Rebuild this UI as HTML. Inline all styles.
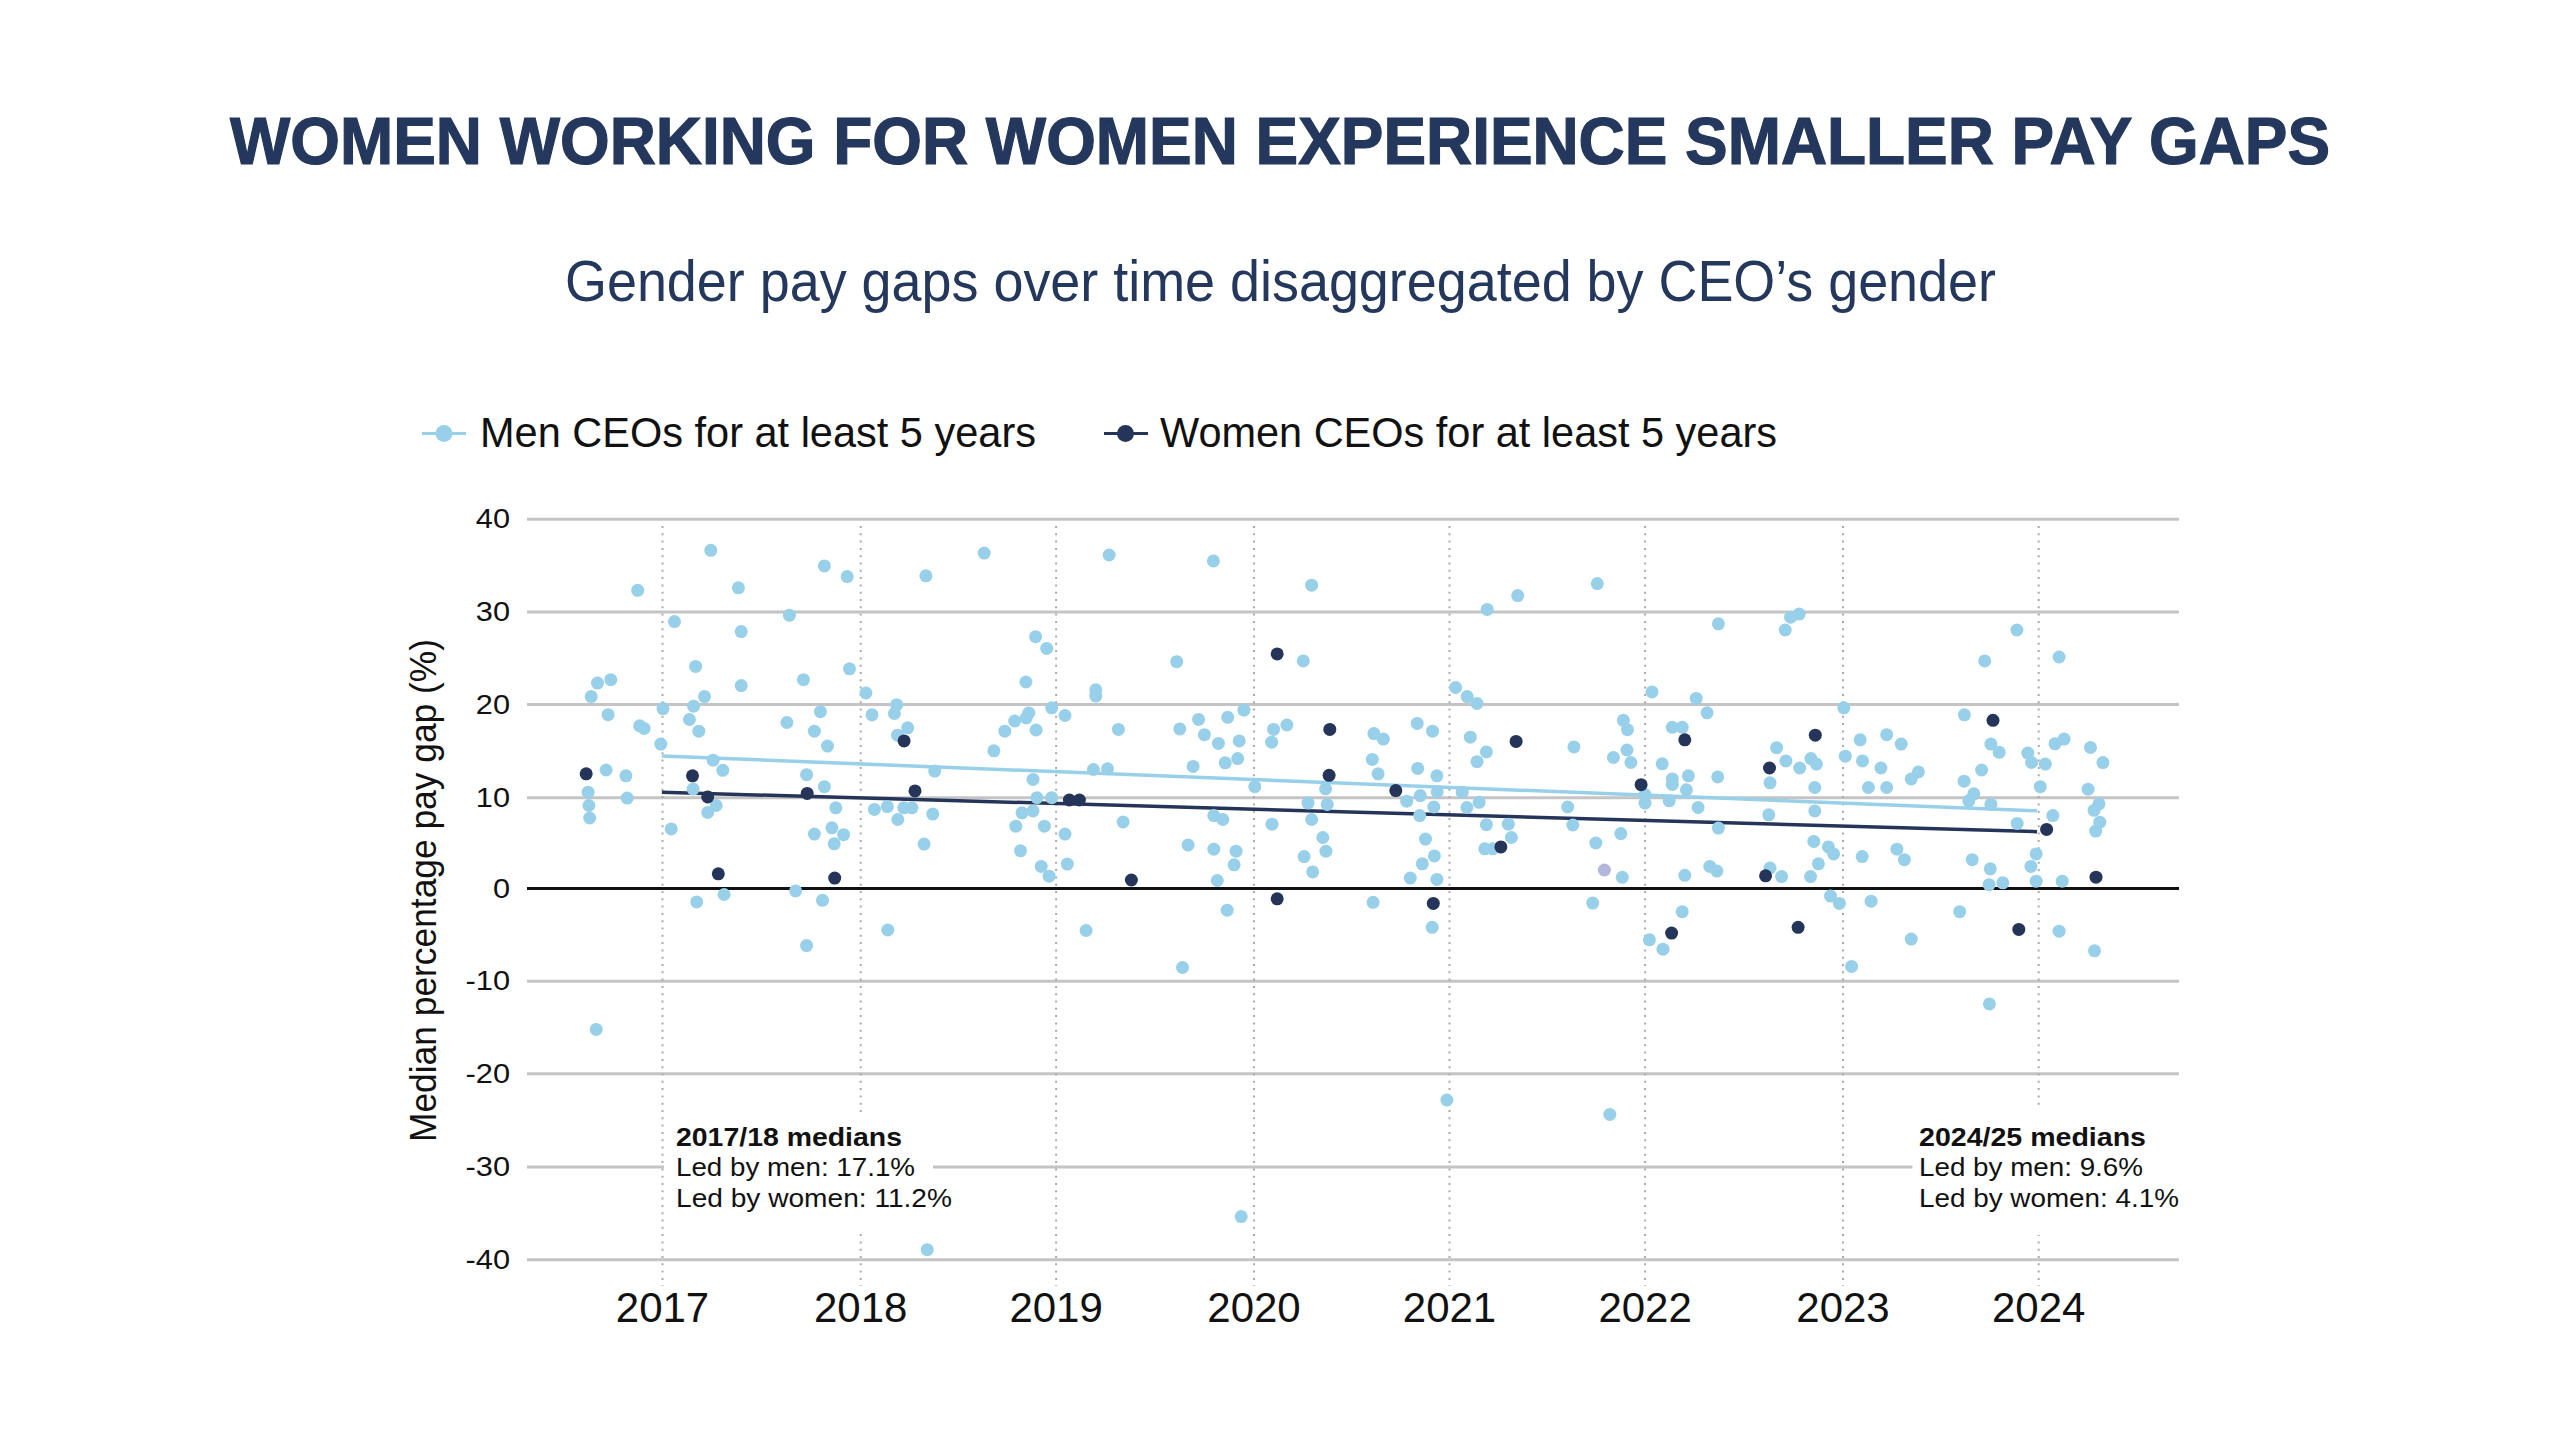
<!DOCTYPE html><html><head><meta charset="utf-8"><style>html,body{margin:0;padding:0;background:#fff;width:2560px;height:1440px;overflow:hidden}svg{position:absolute;left:0;top:0}</style></head><body>
<svg width="2560" height="1440" viewBox="0 0 2560 1440" font-family="Liberation Sans, sans-serif">
<text x="230" y="163.5" font-size="66" font-weight="bold" fill="#24375c" stroke="#24375c" stroke-width="1.2" textLength="2100" lengthAdjust="spacingAndGlyphs">WOMEN WORKING FOR WOMEN EXPERIENCE SMALLER PAY GAPS</text>
<text x="565" y="301" font-size="57.5" fill="#24375c" textLength="1431" lengthAdjust="spacingAndGlyphs">Gender pay gaps over time disaggregated by CEO’s gender</text>
<line x1="422" y1="433.5" x2="466" y2="433.5" stroke="#98d0ea" stroke-width="3"/><circle cx="444" cy="433.5" r="8.5" fill="#98d0ea"/>
<text x="480" y="447.4" font-size="42" fill="#111" textLength="556" lengthAdjust="spacingAndGlyphs">Men CEOs for at least 5 years</text>
<line x1="1104" y1="433.5" x2="1148" y2="433.5" stroke="#253459" stroke-width="3"/><circle cx="1125.5" cy="433.5" r="8.5" fill="#253459"/>
<text x="1160" y="447.4" font-size="42" fill="#111" textLength="617" lengthAdjust="spacingAndGlyphs">Women CEOs for at least 5 years</text>
<line x1="527" y1="519.2" x2="2179" y2="519.2" stroke="#c4c4c4" stroke-width="3"/>
<line x1="527" y1="612.0" x2="2179" y2="612.0" stroke="#c4c4c4" stroke-width="3"/>
<line x1="527" y1="704.6" x2="2179" y2="704.6" stroke="#c4c4c4" stroke-width="3"/>
<line x1="527" y1="797.7" x2="2179" y2="797.7" stroke="#c4c4c4" stroke-width="3"/>
<line x1="527" y1="981.3" x2="2179" y2="981.3" stroke="#c4c4c4" stroke-width="3"/>
<line x1="527" y1="1073.8" x2="2179" y2="1073.8" stroke="#c4c4c4" stroke-width="3"/>
<line x1="527" y1="1167.0" x2="2179" y2="1167.0" stroke="#c4c4c4" stroke-width="3"/>
<line x1="527" y1="1259.8" x2="2179" y2="1259.8" stroke="#c4c4c4" stroke-width="3"/>
<line x1="662.5" y1="526" x2="662.5" y2="1286" stroke="#aaaaaa" stroke-width="2" stroke-dasharray="2 5.3"/>
<line x1="860.7" y1="526" x2="860.7" y2="1286" stroke="#aaaaaa" stroke-width="2" stroke-dasharray="2 5.3"/>
<line x1="1056.1" y1="526" x2="1056.1" y2="1286" stroke="#aaaaaa" stroke-width="2" stroke-dasharray="2 5.3"/>
<line x1="1254.0" y1="526" x2="1254.0" y2="1286" stroke="#aaaaaa" stroke-width="2" stroke-dasharray="2 5.3"/>
<line x1="1449.5" y1="526" x2="1449.5" y2="1286" stroke="#aaaaaa" stroke-width="2" stroke-dasharray="2 5.3"/>
<line x1="1645.1" y1="526" x2="1645.1" y2="1286" stroke="#aaaaaa" stroke-width="2" stroke-dasharray="2 5.3"/>
<line x1="1843.0" y1="526" x2="1843.0" y2="1286" stroke="#aaaaaa" stroke-width="2" stroke-dasharray="2 5.3"/>
<line x1="2038.7" y1="526" x2="2038.7" y2="1286" stroke="#aaaaaa" stroke-width="2" stroke-dasharray="2 5.3"/>
<line x1="527" y1="888.5" x2="2179" y2="888.5" stroke="#111" stroke-width="3"/>
<text x="510" y="528.2" font-size="28" fill="#111" text-anchor="end" textLength="34.2" lengthAdjust="spacingAndGlyphs">40</text>
<text x="510" y="621.0" font-size="28" fill="#111" text-anchor="end" textLength="34.2" lengthAdjust="spacingAndGlyphs">30</text>
<text x="510" y="713.6" font-size="28" fill="#111" text-anchor="end" textLength="34.2" lengthAdjust="spacingAndGlyphs">20</text>
<text x="510" y="806.7" font-size="28" fill="#111" text-anchor="end" textLength="34.2" lengthAdjust="spacingAndGlyphs">10</text>
<text x="510" y="897.5" font-size="28" fill="#111" text-anchor="end" textLength="17.1" lengthAdjust="spacingAndGlyphs">0</text>
<text x="510" y="990.3" font-size="28" fill="#111" text-anchor="end" textLength="44.5" lengthAdjust="spacingAndGlyphs">-10</text>
<text x="510" y="1082.8" font-size="28" fill="#111" text-anchor="end" textLength="44.5" lengthAdjust="spacingAndGlyphs">-20</text>
<text x="510" y="1176.0" font-size="28" fill="#111" text-anchor="end" textLength="44.5" lengthAdjust="spacingAndGlyphs">-30</text>
<text x="510" y="1268.8" font-size="28" fill="#111" text-anchor="end" textLength="44.5" lengthAdjust="spacingAndGlyphs">-40</text>
<text x="662.5" y="1322" font-size="42" fill="#111" text-anchor="middle">2017</text>
<text x="860.7" y="1322" font-size="42" fill="#111" text-anchor="middle">2018</text>
<text x="1056.1" y="1322" font-size="42" fill="#111" text-anchor="middle">2019</text>
<text x="1254.0" y="1322" font-size="42" fill="#111" text-anchor="middle">2020</text>
<text x="1449.5" y="1322" font-size="42" fill="#111" text-anchor="middle">2021</text>
<text x="1645.1" y="1322" font-size="42" fill="#111" text-anchor="middle">2022</text>
<text x="1843.0" y="1322" font-size="42" fill="#111" text-anchor="middle">2023</text>
<text x="2038.7" y="1322" font-size="42" fill="#111" text-anchor="middle">2024</text>
<text transform="translate(436,1142) rotate(-90)" x="0" y="0" font-size="37" fill="#111" textLength="503" lengthAdjust="spacingAndGlyphs">Median percentage pay gap (%)</text>
<line x1="661.9" y1="756" x2="2037.1" y2="810.8" stroke="#98d0ea" stroke-width="3.5"/>
<line x1="661.9" y1="792.2" x2="2037.1" y2="831.7" stroke="#253459" stroke-width="3.5"/>
<circle cx="710.8" cy="550.3" r="6.5" fill="#98d0ea"/>
<circle cx="637.7" cy="590.3" r="6.5" fill="#98d0ea"/>
<circle cx="738.4" cy="587.8" r="6.5" fill="#98d0ea"/>
<circle cx="824.4" cy="565.9" r="6.5" fill="#98d0ea"/>
<circle cx="847.2" cy="576.6" r="6.5" fill="#98d0ea"/>
<circle cx="925.9" cy="575.8" r="6.5" fill="#98d0ea"/>
<circle cx="674.5" cy="621.6" r="6.5" fill="#98d0ea"/>
<circle cx="741.2" cy="631.6" r="6.5" fill="#98d0ea"/>
<circle cx="789.4" cy="615.3" r="6.5" fill="#98d0ea"/>
<circle cx="695.6" cy="666.4" r="6.5" fill="#98d0ea"/>
<circle cx="741.2" cy="685.6" r="6.5" fill="#98d0ea"/>
<circle cx="803.4" cy="679.7" r="6.5" fill="#98d0ea"/>
<circle cx="849.5" cy="668.8" r="6.5" fill="#98d0ea"/>
<circle cx="597.5" cy="683.1" r="6.5" fill="#98d0ea"/>
<circle cx="610.8" cy="679.7" r="6.5" fill="#98d0ea"/>
<circle cx="591.2" cy="696.6" r="6.5" fill="#98d0ea"/>
<circle cx="704.5" cy="696.6" r="6.5" fill="#98d0ea"/>
<circle cx="693.6" cy="706.2" r="6.5" fill="#98d0ea"/>
<circle cx="663.0" cy="708.6" r="6.5" fill="#98d0ea"/>
<circle cx="865.9" cy="693.0" r="6.5" fill="#98d0ea"/>
<circle cx="896.7" cy="704.7" r="6.5" fill="#98d0ea"/>
<circle cx="608.1" cy="714.7" r="6.5" fill="#98d0ea"/>
<circle cx="820.4" cy="711.7" r="6.5" fill="#98d0ea"/>
<circle cx="872.0" cy="714.8" r="6.5" fill="#98d0ea"/>
<circle cx="894.4" cy="713.5" r="6.5" fill="#98d0ea"/>
<circle cx="689.4" cy="719.5" r="6.5" fill="#98d0ea"/>
<circle cx="786.9" cy="722.5" r="6.5" fill="#98d0ea"/>
<circle cx="984.2" cy="553.1" r="6.5" fill="#98d0ea"/>
<circle cx="1109.1" cy="555.0" r="6.5" fill="#98d0ea"/>
<circle cx="1213.4" cy="560.9" r="6.5" fill="#98d0ea"/>
<circle cx="1311.6" cy="585.2" r="6.5" fill="#98d0ea"/>
<circle cx="1035.6" cy="636.7" r="6.5" fill="#98d0ea"/>
<circle cx="1046.7" cy="648.4" r="6.5" fill="#98d0ea"/>
<circle cx="1176.7" cy="661.7" r="6.5" fill="#98d0ea"/>
<circle cx="1303.3" cy="660.9" r="6.5" fill="#98d0ea"/>
<circle cx="1025.9" cy="682.0" r="6.5" fill="#98d0ea"/>
<circle cx="1095.8" cy="689.8" r="6.5" fill="#98d0ea"/>
<circle cx="1095.8" cy="696.1" r="6.5" fill="#98d0ea"/>
<circle cx="1051.7" cy="707.8" r="6.5" fill="#98d0ea"/>
<circle cx="1028.8" cy="713.0" r="6.5" fill="#98d0ea"/>
<circle cx="1065.0" cy="715.5" r="6.5" fill="#98d0ea"/>
<circle cx="1243.9" cy="710.2" r="6.5" fill="#98d0ea"/>
<circle cx="1227.7" cy="717.3" r="6.5" fill="#98d0ea"/>
<circle cx="1198.6" cy="719.4" r="6.5" fill="#98d0ea"/>
<circle cx="1014.7" cy="721.0" r="6.5" fill="#98d0ea"/>
<circle cx="1277.2" cy="653.9" r="6.5" fill="#253459"/>
<circle cx="1487.2" cy="609.4" r="6.5" fill="#98d0ea"/>
<circle cx="1517.7" cy="595.6" r="6.5" fill="#98d0ea"/>
<circle cx="1597.3" cy="583.6" r="6.5" fill="#98d0ea"/>
<circle cx="1718.4" cy="623.8" r="6.5" fill="#98d0ea"/>
<circle cx="1455.6" cy="687.5" r="6.5" fill="#98d0ea"/>
<circle cx="1467.2" cy="696.6" r="6.5" fill="#98d0ea"/>
<circle cx="1477.0" cy="703.4" r="6.5" fill="#98d0ea"/>
<circle cx="1652.0" cy="691.9" r="6.5" fill="#98d0ea"/>
<circle cx="1696.2" cy="698.4" r="6.5" fill="#98d0ea"/>
<circle cx="1707.1" cy="712.8" r="6.5" fill="#98d0ea"/>
<circle cx="1623.4" cy="720.3" r="6.5" fill="#98d0ea"/>
<circle cx="1417.2" cy="723.4" r="6.5" fill="#98d0ea"/>
<circle cx="1790.6" cy="617.2" r="6.5" fill="#98d0ea"/>
<circle cx="1799.2" cy="614.1" r="6.5" fill="#98d0ea"/>
<circle cx="1785.2" cy="630.0" r="6.5" fill="#98d0ea"/>
<circle cx="2016.9" cy="630.0" r="6.5" fill="#98d0ea"/>
<circle cx="1984.7" cy="660.9" r="6.5" fill="#98d0ea"/>
<circle cx="2059.1" cy="657.0" r="6.5" fill="#98d0ea"/>
<circle cx="1843.8" cy="707.8" r="6.5" fill="#98d0ea"/>
<circle cx="1964.4" cy="714.8" r="6.5" fill="#98d0ea"/>
<circle cx="1993.0" cy="720.3" r="6.5" fill="#253459"/>
<circle cx="698.8" cy="731.2" r="6.5" fill="#98d0ea"/>
<circle cx="639.7" cy="725.8" r="6.5" fill="#98d0ea"/>
<circle cx="644.1" cy="728.4" r="6.5" fill="#98d0ea"/>
<circle cx="660.8" cy="744.1" r="6.5" fill="#98d0ea"/>
<circle cx="814.4" cy="731.2" r="6.5" fill="#98d0ea"/>
<circle cx="827.5" cy="746.1" r="6.5" fill="#98d0ea"/>
<circle cx="907.7" cy="727.8" r="6.5" fill="#98d0ea"/>
<circle cx="897.5" cy="735.2" r="6.5" fill="#98d0ea"/>
<circle cx="713.1" cy="760.2" r="6.5" fill="#98d0ea"/>
<circle cx="722.8" cy="770.3" r="6.5" fill="#98d0ea"/>
<circle cx="606.1" cy="770.0" r="6.5" fill="#98d0ea"/>
<circle cx="625.9" cy="775.8" r="6.5" fill="#98d0ea"/>
<circle cx="588.1" cy="792.2" r="6.5" fill="#98d0ea"/>
<circle cx="627.2" cy="798.1" r="6.5" fill="#98d0ea"/>
<circle cx="588.9" cy="805.5" r="6.5" fill="#98d0ea"/>
<circle cx="589.7" cy="818.0" r="6.5" fill="#98d0ea"/>
<circle cx="693.1" cy="789.1" r="6.5" fill="#98d0ea"/>
<circle cx="716.2" cy="805.5" r="6.5" fill="#98d0ea"/>
<circle cx="707.7" cy="812.5" r="6.5" fill="#98d0ea"/>
<circle cx="671.2" cy="828.9" r="6.5" fill="#98d0ea"/>
<circle cx="806.6" cy="774.7" r="6.5" fill="#98d0ea"/>
<circle cx="824.4" cy="786.7" r="6.5" fill="#98d0ea"/>
<circle cx="835.8" cy="807.8" r="6.5" fill="#98d0ea"/>
<circle cx="831.9" cy="827.8" r="6.5" fill="#98d0ea"/>
<circle cx="814.4" cy="834.1" r="6.5" fill="#98d0ea"/>
<circle cx="843.6" cy="834.7" r="6.5" fill="#98d0ea"/>
<circle cx="834.2" cy="843.8" r="6.5" fill="#98d0ea"/>
<circle cx="874.4" cy="809.4" r="6.5" fill="#98d0ea"/>
<circle cx="887.3" cy="806.6" r="6.5" fill="#98d0ea"/>
<circle cx="903.8" cy="807.8" r="6.5" fill="#98d0ea"/>
<circle cx="911.9" cy="807.8" r="6.5" fill="#98d0ea"/>
<circle cx="897.8" cy="819.5" r="6.5" fill="#98d0ea"/>
<circle cx="932.7" cy="814.1" r="6.5" fill="#98d0ea"/>
<circle cx="924.1" cy="844.1" r="6.5" fill="#98d0ea"/>
<circle cx="934.7" cy="771.1" r="6.5" fill="#98d0ea"/>
<circle cx="795.6" cy="890.9" r="6.5" fill="#98d0ea"/>
<circle cx="724.1" cy="894.5" r="6.5" fill="#98d0ea"/>
<circle cx="696.7" cy="901.9" r="6.5" fill="#98d0ea"/>
<circle cx="822.5" cy="900.3" r="6.5" fill="#98d0ea"/>
<circle cx="586.2" cy="773.8" r="6.5" fill="#253459"/>
<circle cx="692.5" cy="775.8" r="6.5" fill="#253459"/>
<circle cx="707.7" cy="796.9" r="6.5" fill="#253459"/>
<circle cx="807.2" cy="793.4" r="6.5" fill="#253459"/>
<circle cx="904.1" cy="740.9" r="6.5" fill="#253459"/>
<circle cx="915.0" cy="790.9" r="6.5" fill="#253459"/>
<circle cx="718.3" cy="873.8" r="6.5" fill="#253459"/>
<circle cx="834.7" cy="878.1" r="6.5" fill="#253459"/>
<circle cx="1026.2" cy="718.0" r="6.5" fill="#98d0ea"/>
<circle cx="1004.8" cy="731.2" r="6.5" fill="#98d0ea"/>
<circle cx="1036.1" cy="730.0" r="6.5" fill="#98d0ea"/>
<circle cx="993.9" cy="750.8" r="6.5" fill="#98d0ea"/>
<circle cx="1118.4" cy="729.4" r="6.5" fill="#98d0ea"/>
<circle cx="1179.8" cy="728.9" r="6.5" fill="#98d0ea"/>
<circle cx="1204.4" cy="734.7" r="6.5" fill="#98d0ea"/>
<circle cx="1218.4" cy="743.4" r="6.5" fill="#98d0ea"/>
<circle cx="1239.2" cy="740.9" r="6.5" fill="#98d0ea"/>
<circle cx="1273.6" cy="729.4" r="6.5" fill="#98d0ea"/>
<circle cx="1286.9" cy="725.0" r="6.5" fill="#98d0ea"/>
<circle cx="1271.6" cy="742.2" r="6.5" fill="#98d0ea"/>
<circle cx="1193.1" cy="766.4" r="6.5" fill="#98d0ea"/>
<circle cx="1225.2" cy="762.8" r="6.5" fill="#98d0ea"/>
<circle cx="1237.7" cy="758.6" r="6.5" fill="#98d0ea"/>
<circle cx="1093.4" cy="769.5" r="6.5" fill="#98d0ea"/>
<circle cx="1107.5" cy="768.8" r="6.5" fill="#98d0ea"/>
<circle cx="1033.0" cy="779.4" r="6.5" fill="#98d0ea"/>
<circle cx="1036.9" cy="797.7" r="6.5" fill="#98d0ea"/>
<circle cx="1051.7" cy="797.7" r="6.5" fill="#98d0ea"/>
<circle cx="1033.0" cy="810.9" r="6.5" fill="#98d0ea"/>
<circle cx="1022.0" cy="812.8" r="6.5" fill="#98d0ea"/>
<circle cx="1015.8" cy="826.2" r="6.5" fill="#98d0ea"/>
<circle cx="1044.4" cy="826.2" r="6.5" fill="#98d0ea"/>
<circle cx="1065.0" cy="834.1" r="6.5" fill="#98d0ea"/>
<circle cx="1123.1" cy="821.9" r="6.5" fill="#98d0ea"/>
<circle cx="1020.5" cy="850.8" r="6.5" fill="#98d0ea"/>
<circle cx="1041.2" cy="866.4" r="6.5" fill="#98d0ea"/>
<circle cx="1049.1" cy="876.2" r="6.5" fill="#98d0ea"/>
<circle cx="1067.3" cy="864.1" r="6.5" fill="#98d0ea"/>
<circle cx="1213.8" cy="815.6" r="6.5" fill="#98d0ea"/>
<circle cx="1222.8" cy="819.5" r="6.5" fill="#98d0ea"/>
<circle cx="1188.1" cy="845.0" r="6.5" fill="#98d0ea"/>
<circle cx="1213.8" cy="849.2" r="6.5" fill="#98d0ea"/>
<circle cx="1236.1" cy="851.2" r="6.5" fill="#98d0ea"/>
<circle cx="1234.1" cy="864.8" r="6.5" fill="#98d0ea"/>
<circle cx="1217.3" cy="880.5" r="6.5" fill="#98d0ea"/>
<circle cx="1227.2" cy="910.2" r="6.5" fill="#98d0ea"/>
<circle cx="1254.8" cy="786.7" r="6.5" fill="#98d0ea"/>
<circle cx="1272.0" cy="824.2" r="6.5" fill="#98d0ea"/>
<circle cx="1308.0" cy="803.1" r="6.5" fill="#98d0ea"/>
<circle cx="1327.2" cy="804.4" r="6.5" fill="#98d0ea"/>
<circle cx="1325.6" cy="788.8" r="6.5" fill="#98d0ea"/>
<circle cx="1311.6" cy="819.5" r="6.5" fill="#98d0ea"/>
<circle cx="1322.8" cy="837.5" r="6.5" fill="#98d0ea"/>
<circle cx="1325.9" cy="851.2" r="6.5" fill="#98d0ea"/>
<circle cx="1304.1" cy="856.6" r="6.5" fill="#98d0ea"/>
<circle cx="1312.7" cy="871.9" r="6.5" fill="#98d0ea"/>
<circle cx="1069.4" cy="800.0" r="6.5" fill="#253459"/>
<circle cx="1079.4" cy="800.0" r="6.5" fill="#253459"/>
<circle cx="1131.4" cy="880.0" r="6.5" fill="#253459"/>
<circle cx="1329.8" cy="729.4" r="6.5" fill="#253459"/>
<circle cx="1329.1" cy="775.3" r="6.5" fill="#253459"/>
<circle cx="1277.2" cy="898.8" r="6.5" fill="#253459"/>
<circle cx="1432.5" cy="731.2" r="6.5" fill="#98d0ea"/>
<circle cx="1373.9" cy="733.6" r="6.5" fill="#98d0ea"/>
<circle cx="1383.3" cy="739.1" r="6.5" fill="#98d0ea"/>
<circle cx="1470.3" cy="737.2" r="6.5" fill="#98d0ea"/>
<circle cx="1486.4" cy="751.9" r="6.5" fill="#98d0ea"/>
<circle cx="1477.0" cy="761.7" r="6.5" fill="#98d0ea"/>
<circle cx="1573.9" cy="746.9" r="6.5" fill="#98d0ea"/>
<circle cx="1627.5" cy="729.7" r="6.5" fill="#98d0ea"/>
<circle cx="1627.0" cy="750.0" r="6.5" fill="#98d0ea"/>
<circle cx="1613.4" cy="757.5" r="6.5" fill="#98d0ea"/>
<circle cx="1630.9" cy="762.5" r="6.5" fill="#98d0ea"/>
<circle cx="1672.3" cy="727.3" r="6.5" fill="#98d0ea"/>
<circle cx="1682.2" cy="727.3" r="6.5" fill="#98d0ea"/>
<circle cx="1662.2" cy="763.8" r="6.5" fill="#98d0ea"/>
<circle cx="1688.4" cy="775.8" r="6.5" fill="#98d0ea"/>
<circle cx="1672.3" cy="778.9" r="6.5" fill="#98d0ea"/>
<circle cx="1672.3" cy="784.4" r="6.5" fill="#98d0ea"/>
<circle cx="1686.4" cy="789.8" r="6.5" fill="#98d0ea"/>
<circle cx="1717.7" cy="776.9" r="6.5" fill="#98d0ea"/>
<circle cx="1669.2" cy="800.8" r="6.5" fill="#98d0ea"/>
<circle cx="1645.0" cy="794.5" r="6.5" fill="#98d0ea"/>
<circle cx="1645.0" cy="803.1" r="6.5" fill="#98d0ea"/>
<circle cx="1698.1" cy="807.5" r="6.5" fill="#98d0ea"/>
<circle cx="1372.3" cy="759.4" r="6.5" fill="#98d0ea"/>
<circle cx="1378.1" cy="773.8" r="6.5" fill="#98d0ea"/>
<circle cx="1417.7" cy="768.4" r="6.5" fill="#98d0ea"/>
<circle cx="1436.9" cy="775.8" r="6.5" fill="#98d0ea"/>
<circle cx="1406.7" cy="801.2" r="6.5" fill="#98d0ea"/>
<circle cx="1420.3" cy="795.6" r="6.5" fill="#98d0ea"/>
<circle cx="1437.2" cy="791.9" r="6.5" fill="#98d0ea"/>
<circle cx="1433.8" cy="807.0" r="6.5" fill="#98d0ea"/>
<circle cx="1419.7" cy="815.6" r="6.5" fill="#98d0ea"/>
<circle cx="1462.2" cy="792.2" r="6.5" fill="#98d0ea"/>
<circle cx="1466.9" cy="807.5" r="6.5" fill="#98d0ea"/>
<circle cx="1479.1" cy="802.3" r="6.5" fill="#98d0ea"/>
<circle cx="1486.4" cy="824.7" r="6.5" fill="#98d0ea"/>
<circle cx="1508.3" cy="824.2" r="6.5" fill="#98d0ea"/>
<circle cx="1511.4" cy="837.5" r="6.5" fill="#98d0ea"/>
<circle cx="1484.8" cy="848.8" r="6.5" fill="#98d0ea"/>
<circle cx="1492.7" cy="848.8" r="6.5" fill="#98d0ea"/>
<circle cx="1567.7" cy="807.0" r="6.5" fill="#98d0ea"/>
<circle cx="1572.8" cy="825.0" r="6.5" fill="#98d0ea"/>
<circle cx="1620.8" cy="833.6" r="6.5" fill="#98d0ea"/>
<circle cx="1595.8" cy="843.0" r="6.5" fill="#98d0ea"/>
<circle cx="1622.3" cy="877.3" r="6.5" fill="#98d0ea"/>
<circle cx="1684.8" cy="875.3" r="6.5" fill="#98d0ea"/>
<circle cx="1709.8" cy="866.4" r="6.5" fill="#98d0ea"/>
<circle cx="1716.9" cy="871.1" r="6.5" fill="#98d0ea"/>
<circle cx="1718.4" cy="828.1" r="6.5" fill="#98d0ea"/>
<circle cx="1425.5" cy="839.1" r="6.5" fill="#98d0ea"/>
<circle cx="1434.4" cy="855.9" r="6.5" fill="#98d0ea"/>
<circle cx="1422.3" cy="863.8" r="6.5" fill="#98d0ea"/>
<circle cx="1410.3" cy="878.1" r="6.5" fill="#98d0ea"/>
<circle cx="1436.9" cy="879.4" r="6.5" fill="#98d0ea"/>
<circle cx="1373.1" cy="902.3" r="6.5" fill="#98d0ea"/>
<circle cx="1592.7" cy="903.1" r="6.5" fill="#98d0ea"/>
<circle cx="1682.2" cy="911.7" r="6.5" fill="#98d0ea"/>
<circle cx="1604.4" cy="870.0" r="6.5" fill="#b3b6dc"/>
<circle cx="1395.8" cy="790.6" r="6.5" fill="#253459"/>
<circle cx="1516.1" cy="741.4" r="6.5" fill="#253459"/>
<circle cx="1500.9" cy="846.9" r="6.5" fill="#253459"/>
<circle cx="1433.3" cy="903.4" r="6.5" fill="#253459"/>
<circle cx="1641.1" cy="784.7" r="6.5" fill="#253459"/>
<circle cx="1684.8" cy="739.8" r="6.5" fill="#253459"/>
<circle cx="1776.6" cy="747.7" r="6.5" fill="#98d0ea"/>
<circle cx="1785.9" cy="760.9" r="6.5" fill="#98d0ea"/>
<circle cx="1799.7" cy="768.0" r="6.5" fill="#98d0ea"/>
<circle cx="1810.9" cy="758.6" r="6.5" fill="#98d0ea"/>
<circle cx="1816.4" cy="764.1" r="6.5" fill="#98d0ea"/>
<circle cx="1770.0" cy="782.8" r="6.5" fill="#98d0ea"/>
<circle cx="1814.8" cy="787.5" r="6.5" fill="#98d0ea"/>
<circle cx="1845.3" cy="756.2" r="6.5" fill="#98d0ea"/>
<circle cx="1860.2" cy="739.8" r="6.5" fill="#98d0ea"/>
<circle cx="1886.7" cy="734.7" r="6.5" fill="#98d0ea"/>
<circle cx="1901.2" cy="744.1" r="6.5" fill="#98d0ea"/>
<circle cx="1862.5" cy="760.9" r="6.5" fill="#98d0ea"/>
<circle cx="1880.9" cy="768.0" r="6.5" fill="#98d0ea"/>
<circle cx="1868.4" cy="787.5" r="6.5" fill="#98d0ea"/>
<circle cx="1886.7" cy="787.5" r="6.5" fill="#98d0ea"/>
<circle cx="1918.4" cy="771.9" r="6.5" fill="#98d0ea"/>
<circle cx="1911.2" cy="778.9" r="6.5" fill="#98d0ea"/>
<circle cx="1990.9" cy="744.1" r="6.5" fill="#98d0ea"/>
<circle cx="1999.2" cy="752.3" r="6.5" fill="#98d0ea"/>
<circle cx="1981.6" cy="770.0" r="6.5" fill="#98d0ea"/>
<circle cx="1964.1" cy="781.2" r="6.5" fill="#98d0ea"/>
<circle cx="1973.8" cy="793.8" r="6.5" fill="#98d0ea"/>
<circle cx="1968.8" cy="800.8" r="6.5" fill="#98d0ea"/>
<circle cx="1990.9" cy="804.4" r="6.5" fill="#98d0ea"/>
<circle cx="2027.8" cy="753.1" r="6.5" fill="#98d0ea"/>
<circle cx="2031.6" cy="762.5" r="6.5" fill="#98d0ea"/>
<circle cx="2045.3" cy="764.1" r="6.5" fill="#98d0ea"/>
<circle cx="2040.3" cy="786.7" r="6.5" fill="#98d0ea"/>
<circle cx="2055.0" cy="743.8" r="6.5" fill="#98d0ea"/>
<circle cx="2064.1" cy="739.1" r="6.5" fill="#98d0ea"/>
<circle cx="2090.5" cy="747.5" r="6.5" fill="#98d0ea"/>
<circle cx="2088.1" cy="789.2" r="6.5" fill="#98d0ea"/>
<circle cx="2052.8" cy="815.6" r="6.5" fill="#98d0ea"/>
<circle cx="2017.2" cy="823.4" r="6.5" fill="#98d0ea"/>
<circle cx="1768.8" cy="814.8" r="6.5" fill="#98d0ea"/>
<circle cx="1814.8" cy="810.9" r="6.5" fill="#98d0ea"/>
<circle cx="1813.8" cy="841.4" r="6.5" fill="#98d0ea"/>
<circle cx="1828.4" cy="846.9" r="6.5" fill="#98d0ea"/>
<circle cx="1833.6" cy="853.9" r="6.5" fill="#98d0ea"/>
<circle cx="1862.2" cy="856.6" r="6.5" fill="#98d0ea"/>
<circle cx="1896.9" cy="849.2" r="6.5" fill="#98d0ea"/>
<circle cx="1904.4" cy="859.7" r="6.5" fill="#98d0ea"/>
<circle cx="1972.2" cy="859.7" r="6.5" fill="#98d0ea"/>
<circle cx="1990.3" cy="868.8" r="6.5" fill="#98d0ea"/>
<circle cx="2036.2" cy="853.9" r="6.5" fill="#98d0ea"/>
<circle cx="2030.9" cy="866.4" r="6.5" fill="#98d0ea"/>
<circle cx="2036.2" cy="881.2" r="6.5" fill="#98d0ea"/>
<circle cx="2062.2" cy="881.2" r="6.5" fill="#98d0ea"/>
<circle cx="1989.1" cy="884.7" r="6.5" fill="#98d0ea"/>
<circle cx="2002.8" cy="882.8" r="6.5" fill="#98d0ea"/>
<circle cx="1770.0" cy="868.0" r="6.5" fill="#98d0ea"/>
<circle cx="1781.6" cy="876.6" r="6.5" fill="#98d0ea"/>
<circle cx="1818.4" cy="863.8" r="6.5" fill="#98d0ea"/>
<circle cx="1810.6" cy="876.6" r="6.5" fill="#98d0ea"/>
<circle cx="1830.5" cy="896.1" r="6.5" fill="#98d0ea"/>
<circle cx="1839.4" cy="903.4" r="6.5" fill="#98d0ea"/>
<circle cx="1871.1" cy="901.2" r="6.5" fill="#98d0ea"/>
<circle cx="1959.7" cy="911.7" r="6.5" fill="#98d0ea"/>
<circle cx="1815.3" cy="735.2" r="6.5" fill="#253459"/>
<circle cx="1769.5" cy="768.0" r="6.5" fill="#253459"/>
<circle cx="2046.6" cy="829.4" r="6.5" fill="#253459"/>
<circle cx="1765.6" cy="875.8" r="6.5" fill="#253459"/>
<circle cx="2102.9" cy="762.6" r="6.5" fill="#98d0ea"/>
<circle cx="2099.0" cy="803.9" r="6.5" fill="#98d0ea"/>
<circle cx="2094.1" cy="810.3" r="6.5" fill="#98d0ea"/>
<circle cx="2099.8" cy="822.2" r="6.5" fill="#98d0ea"/>
<circle cx="2095.7" cy="831.1" r="6.5" fill="#98d0ea"/>
<circle cx="2096.0" cy="877.2" r="6.5" fill="#253459"/>
<circle cx="806.6" cy="945.6" r="6.5" fill="#98d0ea"/>
<circle cx="887.8" cy="930.0" r="6.5" fill="#98d0ea"/>
<circle cx="596.2" cy="1029.4" r="6.5" fill="#98d0ea"/>
<circle cx="1086.1" cy="930.5" r="6.5" fill="#98d0ea"/>
<circle cx="1182.5" cy="967.5" r="6.5" fill="#98d0ea"/>
<circle cx="1432.2" cy="927.3" r="6.5" fill="#98d0ea"/>
<circle cx="1649.4" cy="939.8" r="6.5" fill="#98d0ea"/>
<circle cx="1663.0" cy="949.2" r="6.5" fill="#98d0ea"/>
<circle cx="1446.9" cy="1100.0" r="6.5" fill="#98d0ea"/>
<circle cx="1609.8" cy="1114.4" r="6.5" fill="#98d0ea"/>
<circle cx="1671.6" cy="933.1" r="6.5" fill="#253459"/>
<circle cx="1911.2" cy="939.1" r="6.5" fill="#98d0ea"/>
<circle cx="1851.6" cy="966.4" r="6.5" fill="#98d0ea"/>
<circle cx="1989.4" cy="1003.9" r="6.5" fill="#98d0ea"/>
<circle cx="2059.1" cy="931.2" r="6.5" fill="#98d0ea"/>
<circle cx="2094.5" cy="950.8" r="6.5" fill="#98d0ea"/>
<circle cx="1798.1" cy="927.3" r="6.5" fill="#253459"/>
<circle cx="2018.8" cy="929.4" r="6.5" fill="#253459"/>
<circle cx="927.2" cy="1249.7" r="6.5" fill="#98d0ea"/>
<circle cx="1241.2" cy="1216.6" r="6.5" fill="#98d0ea"/>
<rect x="664" y="1117" width="269" height="113" fill="#fff"/>
<text x="676" y="1145.7" font-size="25" font-weight="bold" fill="#111" textLength="226" lengthAdjust="spacingAndGlyphs">2017/18 medians</text>
<text x="676" y="1175.5" font-size="25" fill="#111" textLength="239" lengthAdjust="spacingAndGlyphs">Led by men: 17.1%</text>
<text x="676" y="1207" font-size="25" fill="#111" textLength="276" lengthAdjust="spacingAndGlyphs">Led by women: 11.2%</text>
<rect x="1912.5" y="1110" width="272" height="125" fill="#fff"/>
<text x="1919" y="1145.7" font-size="25" font-weight="bold" fill="#111" textLength="227" lengthAdjust="spacingAndGlyphs">2024/25 medians</text>
<text x="1919" y="1175.5" font-size="25" fill="#111" textLength="224" lengthAdjust="spacingAndGlyphs">Led by men: 9.6%</text>
<text x="1919" y="1207" font-size="25" fill="#111" textLength="260" lengthAdjust="spacingAndGlyphs">Led by women: 4.1%</text>
</svg></body></html>
